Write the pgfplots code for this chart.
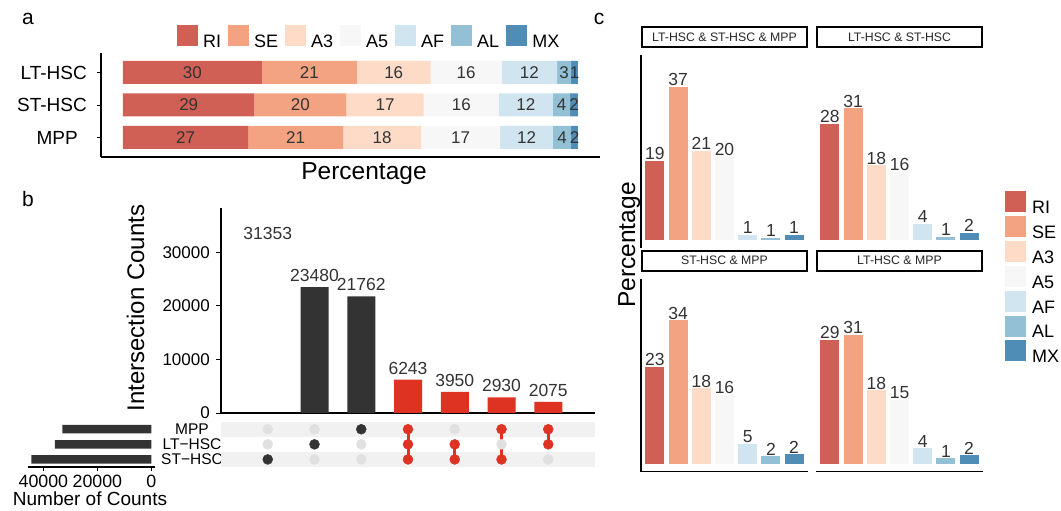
\documentclass[border=0pt]{standalone}
\usepackage{pgfplots}
\pgfplotsset{compat=1.18}
\usepackage{fontspec}
\setmainfont{Liberation Sans}
\definecolor{cRI}{RGB}{208,96,85}
\definecolor{cSE}{RGB}{243,163,130}
\definecolor{cA3}{RGB}{253,219,199}
\definecolor{cA5}{RGB}{247,247,247}
\definecolor{cAF}{RGB}{209,229,240}
\definecolor{cAL}{RGB}{147,192,213}
\definecolor{cMX}{RGB}{79,140,182}
\definecolor{upred}{RGB}{222,50,35}
\definecolor{updark}{RGB}{51,51,51}
\definecolor{labgray}{RGB}{51,51,51}
\definecolor{dotgray}{RGB}{224,224,224}
\definecolor{stripe}{RGB}{241,241,241}
\newcommand\fs[1]{\fontsize{#1}{#1}\selectfont}
\pgfplotsset{
  /pgf/number format/assume math mode=true,
  /pgf/number format/1000 sep={},
  hbox/.style={legend image code/.code={\fill[##1] (0pt,-4.1pt) rectangle (21pt,16.9pt);}},
  cbar/.style={ybar, bar width=19pt, bar shift=0pt, draw=none, fill=#1, hbox,
    nodes near coords, point meta=explicit symbolic,
    every node near coord/.append style={font=\fs{17.5}, text=labgray, anchor=south, inner sep=0.8pt}},
  ulab/.style={nodes near coords,
    every node near coord/.append style={font=\fs{17.5}, text=labgray, anchor=south, inner sep=0pt, yshift=5pt}},
  facet/.style={anchor=south west, scale only axis, width=167pt, height=193pt,
    xmin=0.4, xmax=7.6, ymin=-1.78, ymax=43.95, xtick=\empty, ytick=\empty,
    axis line style={line width=1.4pt,-}, clip=false,
    title style={at={(0.5,1)}, anchor=south, yshift=1pt, draw=black, line width=2pt,
      minimum width=165pt, minimum height=20pt, inner sep=0pt, font=\fs{12.3}, text=black!85, fill=white}},
}
\begin{document}
\begin{tikzpicture}
\useasboundingbox (0,0) rectangle (1061pt,511pt);
% ---------- panel a ----------
\begin{axis}[
  at={(101pt,354pt)}, anchor=south west, scale only axis,
  width=499pt, height=104pt,
  xmin=-4.835, xmax=104.84, ymin=0.4, ymax=3.6,
  xbar stacked, bar width=23pt,
  axis x line*=bottom, axis y line*=left,
  axis line style={line width=1.3pt, -},
  xtick=\empty, ytick={1,2,3}, yticklabels={MPP\hspace*{9pt},ST-HSC,LT-HSC},
  yticklabel style={font=\fs{19}, inner sep=0pt, xshift=-10pt},
  tick align=outside, major tick length=4pt, tick style={line width=0.8pt, black},
  point meta=explicit symbolic,
  nodes near coords,
  every node near coord/.append style={font=\fs{17}, text=labgray, anchor=center},
  legend columns=-1,
  legend style={draw=none, fill=none, inner sep=0pt, at={(0.1523,1.1538)}, anchor=west,
    font=\fs{18}, nodes={inner sep=0pt},
    /tikz/every odd column/.append style={column sep=5pt},
    /tikz/every even column/.append style={column sep=7pt}},
]
\addplot[fill=cRI, draw=none, hbox] table[x=v, y=y, meta=lab] {
y v lab
3 30.5 30
2 28.9 29
1 27.5 27
};
\addlegendentry{RI}
\addplot[fill=cSE, draw=none, hbox] table[x=v, y=y, meta=lab] {
y v lab
3 20.9 21
2 20.2 20
1 20.9 21
};
\addlegendentry{SE}
\addplot[fill=cA3, draw=none, hbox] table[x=v, y=y, meta=lab] {
y v lab
3 16.2 16
2 17.0 17
1 17.1 18
};
\addlegendentry{A3}
\addplot[fill=cA5, draw=none, hbox] table[x=v, y=y, meta=lab] {
y v lab
3 15.6 16
2 16.5 16
1 17.4 17
};
\addlegendentry{A5}
\addplot[fill=cAF, draw=none, hbox] table[x=v, y=y, meta=lab] {
y v lab
3 12.2 12
2 11.9 12
1 11.6 12
};
\addlegendentry{AF}
\addplot[fill=cAL, draw=none, hbox] table[x=v, y=y, meta=lab] {
y v lab
3 3.1 3
2 3.8 4
1 4.0 4
};
\addlegendentry{AL}
\addplot[fill=cMX, draw=none, hbox] table[x=v, y=y, meta=lab] {
y v lab
3 1.5 1
2 1.7 2
1 1.5 2
};
\addlegendentry{MX}
\end{axis}
\node[font=\fs{24.5}, anchor=base] at (364pt,331.5pt) {Percentage};
\node[font=\fs{21}, anchor=base] at (28pt,486pt) {a};
% ---------- panel b: intersections ----------
\begin{axis}[
  at={(221pt,98pt)}, anchor=south west, scale only axis, width=374pt, height=205pt,
  xmin=0, xmax=8, ymin=0, ymax=38250,
  axis x line*=bottom, axis y line*=left, axis line style={line width=1.3pt,-},
  xtick=\empty, ytick={0,10000,20000,30000}, scaled y ticks=false,
  yticklabel style={font=\fs{17}, inner sep=0pt, xshift=-6pt},
  tick align=outside, major tick length=5pt, tick style={line width=0.8pt, black},
  clip=false,
]
\addplot[ybar, bar width=28pt, bar shift=0pt, fill=none, draw=none, ulab] coordinates {(1,31353)};
\addplot[ybar, bar width=28pt, bar shift=0pt, fill=updark, draw=none, ulab] coordinates {(2,23480) (3,21762)};
\addplot[ybar, bar width=28pt, bar shift=0pt, fill=upred, draw=none, ulab] coordinates {(4,6243) (5,3950) (6,2930) (7,2075)};
\end{axis}
\node[rotate=90, anchor=base, font=\fs{24}] at (144pt,203pt) {Intersection Counts};
\node[font=\fs{21}, anchor=base] at (28pt,304pt) {b};
% ---------- panel b: matrix ----------
\begin{axis}[
  at={(221pt,44pt)}, anchor=south west, scale only axis, width=374pt, height=45.3pt,
  xmin=0, xmax=8, ymin=0.5, ymax=3.5,
  axis line style={draw=none}, xtick=\empty, ytick={1,2,3},
  yticklabels={ST−HSC,LT−HSC,MPP},
  yticklabel style={font=\fs{15.5}, anchor=center, xshift=-29pt},
  major tick length=0pt, clip=false,
]
\addplot[fill=stripe, draw=none] coordinates {(0,2.5) (8,2.5) (8,3.5) (0,3.5)};
\addplot[fill=stripe, draw=none] coordinates {(0,0.5) (8,0.5) (8,1.5) (0,1.5)};
\addplot[only marks, mark=*, mark size=5pt, dotgray] coordinates {(1,3) (1,2) (2,3) (2,1) (3,2) (3,1) (5,3) (6,2) (7,1)};
\addplot[upred, line width=3pt] coordinates {(4,1) (4,3)};
\addplot[upred, line width=3pt] coordinates {(5,1) (5,2)};
\addplot[upred, line width=3pt] coordinates {(6,1) (6,3)};
\addplot[upred, line width=3pt] coordinates {(7,2) (7,3)};
\addplot[only marks, mark=*, mark size=5pt, updark] coordinates {(1,1) (2,2) (3,3)};
\addplot[only marks, mark=*, mark size=5pt, upred] coordinates {(4,3) (4,2) (4,1) (5,2) (5,1) (6,3) (6,1) (7,3) (7,2)};
\end{axis}
% ---------- panel b: set sizes ----------
\begin{axis}[
  at={(27.7pt,44pt)}, anchor=south west, scale only axis, width=127.7pt, height=45.3pt,
  xmin=-1480, xmax=45815, x dir=reverse, ymin=0.5, ymax=3.5,
  axis x line*=bottom, axis y line=none, axis line style={line width=1.3pt,-},
  xtick={0,20000,40000}, ytick=\empty, scaled x ticks=false,
  xticklabel style={font=\fs{17.8}, inner sep=0pt, yshift=-4pt},
  tick align=outside, major tick length=4pt, tick style={line width=0.8pt, black},
]
\addplot[xbar, bar width=8.5pt, bar shift=0pt, fill=updark, draw=none] coordinates {(33010,3) (35748,2) (44476,1)};
\end{axis}
\node[font=\fs{19}, anchor=base] at (90pt,5.7pt) {Number of Counts};
% ---------- panel c ----------
\begin{axis}[facet, at={(641pt,263pt)}, axis x line=none, axis y line*=left,
  title={LT-HSC \& ST-HSC \& MPP}]
\addplot[cbar=cRI] coordinates {(1,18.9) [19]};
\addplot[cbar=cSE] coordinates {(2,36.4) [37]};
\addplot[cbar=cA3] coordinates {(3,21.3) [21]};
\addplot[cbar=cA5] coordinates {(4,19.9) [20]};
\addplot[cbar=cAF] coordinates {(5,1.35) [1]};
\addplot[cbar=cAL] coordinates {(6,0.64) [1]};
\addplot[cbar=cMX] coordinates {(7,1.35) [1]};
\end{axis}
\begin{axis}[facet, at={(816pt,263pt)}, axis lines=none,
  title={LT-HSC \& ST-HSC},
  legend style={draw=none, fill=none, inner sep=0pt, at={(1.1317,0.2953)}, anchor=north west,
    font=\fs{18}, nodes={inner sep=0pt}, row sep=1pt,
    /tikz/every odd column/.append style={column sep=6pt}},
  legend cell align=left]
\addplot[cbar=cRI] coordinates {(1,27.7) [28]};
\addlegendentry{RI}
\addplot[cbar=cSE] coordinates {(2,31.3) [31]};
\addlegendentry{SE}
\addplot[cbar=cA3] coordinates {(3,17.8) [18]};
\addlegendentry{A3}
\addplot[cbar=cA5] coordinates {(4,16.3) [16]};
\addlegendentry{A5}
\addplot[cbar=cAF] coordinates {(5,3.96) [4]};
\addlegendentry{AF}
\addplot[cbar=cAL] coordinates {(6,0.88) [1]};
\addlegendentry{AL}
\addplot[cbar=cMX] coordinates {(7,1.82) [2]};
\addlegendentry{MX}
\end{axis}
\begin{axis}[facet, at={(641pt,39.3pt)}, axis x line*=bottom, axis y line*=left,
  title={ST-HSC \& MPP}]
\addplot[cbar=cRI] coordinates {(1,23.1) [23]};
\addplot[cbar=cSE] coordinates {(2,34.1) [34]};
\addplot[cbar=cA3] coordinates {(3,18.0) [18]};
\addplot[cbar=cA5] coordinates {(4,16.4) [16]};
\addplot[cbar=cAF] coordinates {(5,4.8) [5]};
\addplot[cbar=cAL] coordinates {(6,1.9) [2]};
\addplot[cbar=cMX] coordinates {(7,2.37) [2]};
\end{axis}
\begin{axis}[facet, at={(816pt,39.3pt)}, axis x line*=bottom, axis y line=none,
  title={LT-HSC \& MPP}]
\addplot[cbar=cRI] coordinates {(1,29.4) [29]};
\addplot[cbar=cSE] coordinates {(2,30.6) [31]};
\addplot[cbar=cA3] coordinates {(3,17.5) [18]};
\addplot[cbar=cA5] coordinates {(4,15.2) [15]};
\addplot[cbar=cAF] coordinates {(5,3.8) [4]};
\addplot[cbar=cAL] coordinates {(6,1.4) [1]};
\addplot[cbar=cMX] coordinates {(7,2.13) [2]};
\end{axis}
\node[rotate=90, anchor=base, font=\fs{24.5}] at (635pt,266pt) {Percentage};
\node[font=\fs{21}, anchor=base] at (599pt,486pt) {c};
\end{tikzpicture}
\end{document}
